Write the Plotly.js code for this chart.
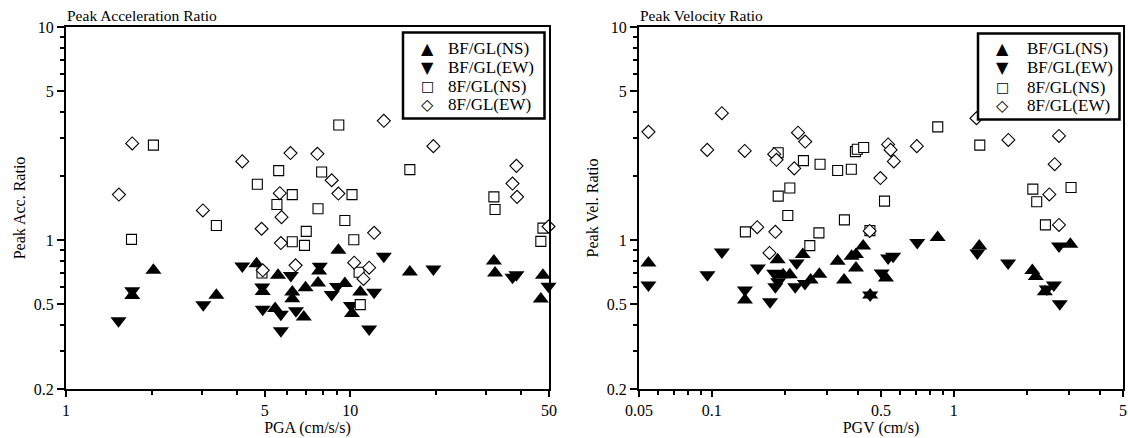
<!DOCTYPE html>
<html>
<head>
<meta charset="utf-8">
<script src="https://cdn.plot.ly/plotly-3.0.1.min.js"></script>
<style>
  html, body { margin: 0; padding: 0; background: #ffffff; }
  #chart { width: 1128px; height: 438px; }
</style>
</head>
<body>
<div id="chart"></div>
<script>
// ---- Peak acceleration ratio vs PGA (cm/s/s) ----
const accBFNS_x = [2.03, 1.71, 3.38, 4.68, 4.92, 5.57, 5.44, 6.25, 6.25, 6.96, 6.86, 7.77, 7.70, 9.08, 9.57, 10.14, 10.84, 16.2, 32.0, 32.3, 47.6, 46.8];
const accBFNS_y = [0.721, 0.549, 0.551, 0.775, 0.573, 0.683, 0.477, 0.571, 0.531, 0.598, 0.436, 0.716, 0.629, 0.895, 0.625, 0.452, 0.571, 0.708, 0.797, 0.701, 0.683, 0.529];

const accBFEW_x = [1.53, 1.71, 3.04, 4.17, 4.90, 4.92, 5.70, 5.70, 6.18, 6.44, 7.81, 8.60, 8.98, 10.05, 11.65, 12.13, 13.12, 19.6, 37.2, 38.4, 49.8];
const accBFEW_y = [0.418, 0.579, 0.497, 0.755, 0.603, 0.474, 0.449, 0.375, 0.681, 0.466, 0.753, 0.555, 0.605, 0.493, 0.382, 0.569, 0.839, 0.731, 0.669, 0.688, 0.607];

const acc8FNS_x = [1.70, 2.03, 3.38, 4.71, 4.89, 5.60, 5.52, 6.25, 6.25, 6.90, 7.00, 7.70, 7.93, 9.11, 9.57, 10.14, 10.29, 10.74, 10.84, 16.2, 32.0, 32.3, 46.8, 47.6];
const acc8FNS_y = [1.007, 2.79, 1.171, 1.828, 0.701, 2.118, 1.468, 1.635, 0.982, 0.944, 1.098, 1.402, 2.088, 3.47, 1.236, 1.635, 1.003, 0.706, 0.498, 2.14, 1.595, 1.391, 0.986, 1.138];

const acc8FEW_x = [1.535, 1.71, 3.03, 4.17, 4.875, 4.92, 5.65, 5.73, 5.70, 6.16, 6.42, 7.66, 8.60, 9.08, 10.32, 11.13, 11.65, 12.13, 13.12, 19.6, 37.2, 38.4, 38.6, 49.8];
const acc8FEW_y = [1.635, 2.84, 1.377, 2.34, 1.13, 0.721, 1.659, 1.281, 0.968, 2.56, 0.761, 2.54, 1.909, 1.653, 0.783, 0.657, 0.742, 1.082, 3.63, 2.76, 1.842, 2.23, 1.595, 1.158];

// ---- Peak velocity ratio vs PGV (cm/s) ----
const velBFNS_x = [0.0547, 0.137, 0.187, 0.197, 0.210, 0.2375, 0.256, 0.278, 0.331, 0.352, 0.378, 0.394, 0.394, 0.422, 0.451, 0.524, 0.857, 1.273, 2.11, 2.18, 2.376, 3.03];
const velBFNS_y = [0.781, 0.523, 0.809, 0.687, 0.687, 0.855, 0.649, 0.692, 0.795, 0.650, 0.839, 0.856, 0.740, 0.939, 0.552, 0.664, 1.027, 0.939, 0.719, 0.675, 0.572, 0.956];

const velBFEW_x = [0.0547, 0.0959, 0.110, 0.137, 0.155, 0.174, 0.181, 0.188, 0.183, 0.221, 0.224, 0.2425, 0.451, 0.503, 0.535, 0.561, 0.706, 1.25, 1.676, 2.59, 2.74, 2.72, 2.42];
const velBFEW_y = [0.615, 0.688, 0.878, 0.583, 0.740, 0.513, 0.699, 0.638, 0.604, 0.604, 0.781, 0.626, 0.552, 0.700, 0.824, 0.839, 0.973, 0.870, 0.781, 0.615, 0.503, 0.939, 0.589];

const vel8FNS_x = [0.1376, 0.188, 0.188, 0.206, 0.210, 0.239, 0.254, 0.277, 0.280, 0.331, 0.353, 0.377, 0.392, 0.399, 0.424, 0.450, 0.517, 0.858, 1.28, 2.12, 2.20, 2.39, 3.05];
const vel8FNS_y = [1.093, 1.608, 2.57, 1.304, 1.754, 2.36, 0.942, 1.081, 2.27, 2.12, 1.244, 2.15, 2.60, 2.67, 2.72, 1.108, 1.523, 3.40, 2.79, 1.735, 1.512, 1.178, 1.766];

const vel8FEW_x = [0.0547, 0.0957, 0.110, 0.1367, 0.154, 0.173, 0.181, 0.185, 0.183, 0.219, 0.227, 0.243, 0.449, 0.497, 0.535, 0.548, 0.565, 0.703, 1.24, 1.68, 2.48, 2.61, 2.72, 2.72];
const vel8FEW_y = [3.22, 2.65, 3.94, 2.62, 1.149, 0.870, 2.53, 2.38, 1.093, 2.17, 3.19, 2.90, 1.104, 1.954, 2.81, 2.65, 2.34, 2.76, 3.73, 2.95, 1.638, 2.27, 3.08, 1.178];

// ---- series names, axis labels and ticks ----
const seriesNames = ['BF/GL(NS)', 'BF/GL(EW)', '8F/GL(NS)', '8F/GL(EW)'];
const legendGlyphs = ['\u25B2', '\u25BC', '\u25A1', '\u25C7'];

const accTickVals = [1, 5, 10, 50];
const accTickText = ['1', '5', '10', '50'];
const accMinorVals = [2, 3, 4, 6, 7, 8, 9, 20, 30, 40];

const velTickVals = [0.05, 0.1, 0.5, 1, 5];
const velTickText = ['0.05', '0.1', '0.5', '1', '5'];
const velMinorVals = [0.06, 0.07, 0.08, 0.09, 0.2, 0.3, 0.4, 0.6, 0.7, 0.8, 0.9, 2, 3, 4];

const ratioTickVals = [0.2, 0.5, 1, 5, 10];
const ratioTickText = ['0.2', '0.5', '1', '5', '10'];
const ratioMinorVals = [0.3, 0.4, 0.6, 0.7, 0.8, 0.9, 2, 3, 4, 6, 7, 8, 9];

// ---- page geometry (pixels) ----
const W = 1128, H = 438;
const px = v => v / W;
const py = v => 1 - v / H;
const FONT = 'Liberation Serif, Times New Roman, serif';

const filledStyle = sym => ({ symbol: sym, size: 14, color: '#000', line: { width: 0 } });
const openStyle = (sym, size) => ({ symbol: sym, size: size, color: '#fff', line: { color: '#000', width: 1.1 } });

function scatter(x, y, xa, ya, marker, name) {
  return { type: 'scatter', mode: 'markers', x: x, y: y, xaxis: xa, yaxis: ya,
           name: name, marker: marker, showlegend: false, cliponaxis: false, hoverinfo: 'x+y+name' };
}

const traces = [
  scatter(accBFNS_x, accBFNS_y, 'x', 'y', filledStyle('triangle-up'), seriesNames[0]),
  scatter(accBFEW_x, accBFEW_y, 'x', 'y', filledStyle('triangle-down'), seriesNames[1]),
  scatter(acc8FNS_x, acc8FNS_y, 'x', 'y', openStyle('square', 10), seriesNames[2]),
  scatter(acc8FEW_x, acc8FEW_y, 'x', 'y', openStyle('diamond', 10), seriesNames[3]),
  scatter(velBFNS_x, velBFNS_y, 'x2', 'y2', filledStyle('triangle-up'), seriesNames[0]),
  scatter(velBFEW_x, velBFEW_y, 'x2', 'y2', filledStyle('triangle-down'), seriesNames[1]),
  scatter(vel8FNS_x, vel8FNS_y, 'x2', 'y2', openStyle('square', 10), seriesNames[2]),
  scatter(vel8FEW_x, vel8FEW_y, 'x2', 'y2', openStyle('diamond', 10), seriesNames[3])
];

const tickFont = { family: FONT, size: 16, color: '#000' };
const titleFont = { family: FONT, size: 16, color: '#000' };

function logAxis(range, domain, anchor, vals, text, minor, title) {
  return {
    type: 'log', range: range, domain: domain, anchor: anchor,
    showline: true, mirror: true, linewidth: 2, linecolor: '#000',
    showgrid: false, zeroline: false,
    ticks: 'outside', ticklen: 6, tickwidth: 2, tickcolor: '#000',
    tickmode: 'array', tickvals: vals, ticktext: text, tickfont: tickFont,
    minor: { tickmode: 'array', tickvals: minor, ticks: 'outside', ticklen: 4, tickwidth: 2, tickcolor: '#000', showgrid: false },
    title: { text: title, font: titleFont, standoff: 4 },
    automargin: false, fixedrange: true
  };
}

const yDomain = [py(389), py(27)];
const yRange = [Math.log10(0.2), 1];

const layout = {
  width: W, height: H,
  margin: { l: 0, r: 0, t: 0, b: 0 },
  paper_bgcolor: '#fff', plot_bgcolor: '#fff',
  font: { family: FONT, color: '#000' },
  showlegend: false,
  xaxis: logAxis([0, Math.log10(50)], [px(66), px(549)], 'y', accTickVals, accTickText, accMinorVals, 'PGA (cm/s/s)'),
  yaxis: logAxis(yRange, yDomain, 'x', ratioTickVals, ratioTickText, ratioMinorVals, 'Peak Acc. Ratio'),
  xaxis2: logAxis([Math.log10(0.05), Math.log10(5)], [px(639), px(1123)], 'y2', velTickVals, velTickText, velMinorVals, 'PGV (cm/s)'),
  yaxis2: logAxis(yRange, yDomain, 'x2', ratioTickVals, ratioTickText, ratioMinorVals, 'Peak Vel. Ratio'),
  shapes: [],
  annotations: []
};
layout.yaxis.ticklen = 7;
layout.yaxis2.ticklen = 7;

// panel headings
layout.annotations.push(
  { xref: 'paper', yref: 'paper', x: px(65), y: py(27), xanchor: 'left', yanchor: 'bottom', yshift: 1,
    text: 'Peak Acceleration Ratio', showarrow: false, font: { family: FONT, size: 15.5, color: '#000' } },
  { xref: 'paper', yref: 'paper', x: px(638), y: py(27), xanchor: 'left', yanchor: 'bottom', yshift: 1,
    text: 'Peak Velocity Ratio', showarrow: false, font: { family: FONT, size: 15.5, color: '#000' } }
);

// boxed keys inside each panel
function addKey(box, symX, textX, rows) {
  layout.shapes.push({ type: 'rect', xref: 'paper', yref: 'paper',
    x0: px(box[0]), x1: px(box[1]), y0: py(box[3]), y1: py(box[2]),
    line: { color: '#000', width: 2.5 }, fillcolor: '#fff', layer: 'above' });
  const glyphSizes = [16, 16, 14, 16];
  rows.forEach((ry, i) => {
    layout.annotations.push({ xref: 'paper', yref: 'paper', x: px(symX), y: py(ry),
      xanchor: 'center', yanchor: 'middle', text: legendGlyphs[i], showarrow: false,
      font: { family: 'DejaVu Sans', size: glyphSizes[i], color: '#000' } });
    layout.annotations.push({ xref: 'paper', yref: 'paper', x: px(textX), y: py(ry),
      xanchor: 'left', yanchor: 'middle', text: seriesNames[i], showarrow: false,
      font: { family: FONT, size: 17, color: '#000' } });
  });
}
addKey([403, 544.5, 32.5, 118.5], 427, 446, [48, 67.5, 86.5, 105]);
addKey([978, 1119.5, 33.5, 119.5], 1002.5, 1025, [48.5, 67.5, 87, 105.5]);

Plotly.newPlot('chart', traces, layout, { displayModeBar: false, staticPlot: true });
</script>
</body>
</html>
